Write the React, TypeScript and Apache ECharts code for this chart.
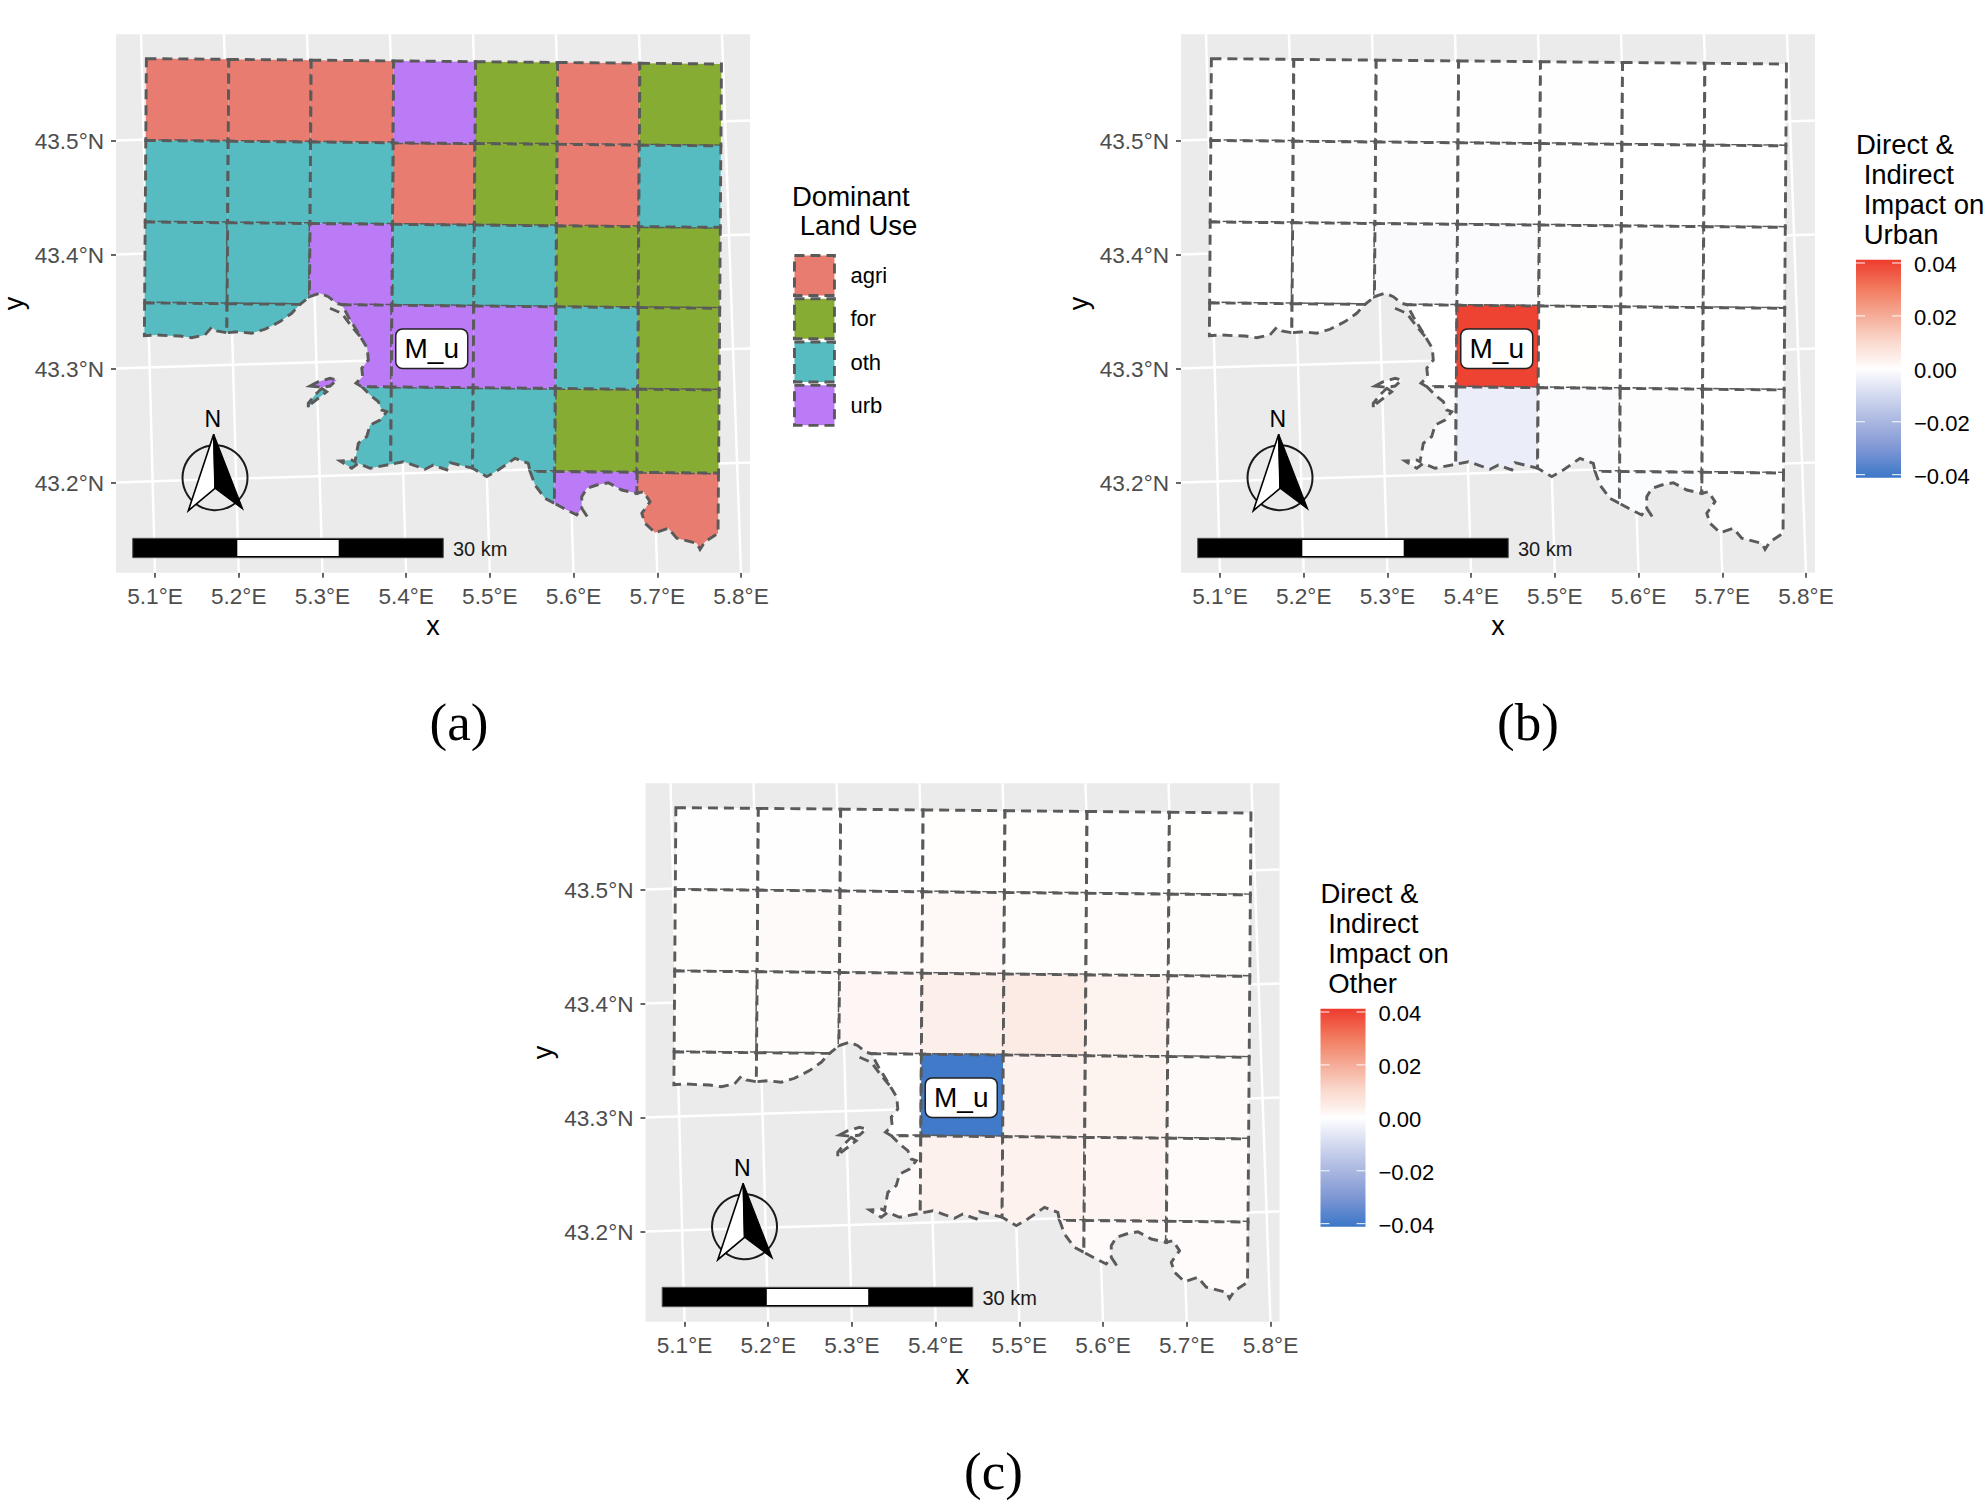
import React, { useEffect, useRef } from "react";
import * as echarts from "echarts";

const SANS = "'Liberation Sans', Arial, sans-serif";
const SERIF = "'Liberation Serif', serif";

// ---------- values ----------
const landUseNames = ["agri", "for", "oth", "urb"];
const landUseColors = ["#E97C70", "#87AC33", "#56BCC2", "#BB7AF6"];
const lonTicks = [5.1, 5.2, 5.3, 5.4, 5.5, 5.6, 5.7, 5.8];
const latTicks = [43.2, 43.3, 43.4, 43.5];
const meridianTilt = [0.0167, 0.0176, 0.0184, 0.0193, 0.0201, 0.021, 0.0218, 0.0227];
const parallelTilt = 0.0175;
const impactTicks = [-0.04, -0.02, 0, 0.02, 0.04];
const impactStops: [number, string][] = [
  [-0.0412, "#3A77C8"], [-0.03, "#7F97D4"], [-0.02, "#A9B7E0"], [-0.01, "#D3D9EF"], [0, "#FFFFFF"],
  [0.005, "#FCEBE5"], [0.01, "#FADACF"], [0.02, "#F5AC98"], [0.03, "#F27C60"], [0.0412, "#EE3B2E"],
];
const colLons = [5.0897, 5.1882, 5.2866, 5.3851, 5.4829, 5.5809, 5.6793, 5.7767];
const rowLats = [43.5718, 43.5, 43.4285, 43.3575, 43.2859, 43.213];
const landUse = [
  ["agri", "agri", "agri", "urb", "for", "agri", "for"],
  ["oth", "oth", "oth", "agri", "for", "agri", "oth"],
  ["oth", "oth", "urb", "oth", "oth", "for", "for"],
  ["oth", "oth", "urb", "urb", "urb", "oth", "for"],
  [null, null, "oth", "oth", "oth", "for", "for"],
  [null, null, null, null, "oth", "urb", "agri"],
];
const impactUrban = [
  [-0.0001, -0.0001, -0.0002, -0.0003, -0.0002, -0.0001, -0.0001],
  [-0.0002, -0.0004, -0.0005, -0.0003, -0.0002, -0.0001, -0.0001],
  [-0.0001, -0.0002, -0.0012, -0.001, -0.0003, -0.0002, -0.0001],
  [-0.0001, -0.0001, 0, 0.04, 0.0001, -0.0001, 0],
  [null, null, -0.001, -0.0045, -0.001, -0.0004, -0.0001],
  [null, null, null, null, -0.0008, -0.0008, -0.0002],
];
const impactOther = [
  [0.0002, 0.0002, 0.0002, 0.0003, 0.0003, 0.0002, 0.0001],
  [0.0005, 0.0012, 0.0008, 0.0018, 0.0006, 0.0008, 0.0006],
  [0.0005, 0.0008, 0.0022, 0.0042, 0.005, 0.0028, 0.0012],
  [0.0005, 0.0008, 0, -0.04, 0.0035, 0.003, 0.0012],
  [null, null, 0.0012, 0.0035, 0.0032, 0.0025, 0.001],
  [null, null, null, null, 0.002, 0.0012, 0.001],
];
type P = [number, number];
const coastWest: P[] = [[5.0873, 43.3288], [5.102, 43.3294], [5.1159, 43.3288], [5.1299, 43.3285], [5.1438, 43.327], [5.1597, 43.3294], [5.1677, 43.3361], [5.1737, 43.3329], [5.1858, 43.3314]];
const coastBayWest: P[] = [[5.1858, 43.3314], [5.1995, 43.3323], [5.2155, 43.3309], [5.2314, 43.3344], [5.2493, 43.3411], [5.2633, 43.3484], [5.2732, 43.3562]];
const coastPeak: P[] = [[5.2845, 43.363], [5.2971, 43.366], [5.307, 43.363], [5.3171, 43.3572], [5.3234, 43.3559]];
const coastBayEast: P[] = [[5.3234, 43.3559], [5.3309, 43.3454], [5.3429, 43.3309], [5.3536, 43.3177], [5.3548, 43.3075], [5.347, 43.3002], [5.3481, 43.2928], [5.3401, 43.287], [5.347, 43.2841]];
const coastSouthWest: P[] = [[5.347, 43.2841], [5.3569, 43.2768], [5.3668, 43.2709], [5.3708, 43.2636], [5.3768, 43.2621], [5.3688, 43.2548], [5.3569, 43.2504], [5.3529, 43.2402], [5.3429, 43.2344], [5.3389, 43.2182], [5.335, 43.2197], [5.321, 43.2189], [5.335, 43.2125], [5.3429, 43.2168], [5.3569, 43.2125], [5.3816, 43.216]];
const coastSouth: P[] = [[5.3816, 43.216], [5.3967, 43.2182], [5.4086, 43.2153], [5.4226, 43.2116], [5.4325, 43.2153], [5.4485, 43.211], [5.4524, 43.2174], [5.4794, 43.2125]];
const coastCove: P[] = [[5.4794, 43.2125], [5.4963, 43.2051], [5.5101, 43.211], [5.5301, 43.2212], [5.546, 43.2168], [5.548, 43.2098]];
const coastInlet: P[] = [[5.548, 43.2098], [5.554, 43.1978], [5.5659, 43.1861], [5.5771, 43.1818]];
const coastCape: P[] = [[5.5771, 43.1818], [5.5919, 43.1759], [5.6038, 43.1715], [5.6098, 43.1774], [5.6177, 43.1686], [5.6098, 43.1774], [5.6098, 43.1876], [5.6158, 43.1949], [5.6277, 43.1978], [5.6416, 43.1998], [5.6576, 43.1934], [5.6756, 43.1905]];
const coastEast: P[] = [[5.6756, 43.1905], [5.6834, 43.1919], [5.6914, 43.1832], [5.6815, 43.173], [5.6854, 43.1642], [5.6974, 43.156], [5.7132, 43.1598], [5.7233, 43.1511], [5.7472, 43.1467], [5.7511, 43.1414], [5.7571, 43.1481], [5.7726, 43.1554]];
const lagoon: P[] = [[5.3091, 43.3528], [5.3231, 43.3484], [5.335, 43.3367], [5.347, 43.3265]];
const islandUrb: P[] = [[5.2852, 43.2846], [5.2951, 43.2884], [5.3091, 43.2914], [5.3171, 43.2899], [5.3091, 43.2846], [5.2992, 43.2835]];
const islandOth: P[] = [[5.2992, 43.2826], [5.3051, 43.2796], [5.2951, 43.2739], [5.2872, 43.2695], [5.2831, 43.2651], [5.2831, 43.2695], [5.2911, 43.2768]];
const markerName = "M_u";
const markerPoint: P = [5.4306, 43.3174];

const xMin = 5.0534, xMax = 5.8108, yMin = 43.1208, yMax = 43.5932;
const barMin = -0.0412, barMax = 0.0412;

// ---------- geometry ----------
const V = (i: number, j: number): P => [
  colLons[j] + 0.0098 * (rowLats[i] - rowLats[0]),
  rowLats[i] - 0.0069 * (colLons[j] - colLons[0]),
];
const rev = (a: P[]) => [...a].reverse();
const specialRings: Record<string, P[]> = {
  "2,1": [V(2, 1), V(2, 2), coastPeak[0], coastBayWest[6], V(3, 1)],
  "2,2": [V(2, 2), V(2, 3), V(3, 3), ...rev(coastPeak)],
  "3,0": [V(3, 0), V(3, 1), ...rev(coastWest)],
  "3,1": [V(3, 1), ...rev(coastBayWest)],
  "3,2": [V(3, 3), V(4, 3), ...rev(coastBayEast)],
  "4,2": [V(4, 3), ...rev(coastSouthWest)],
  "4,3": [V(4, 3), V(4, 4), ...rev(coastSouth)],
  "4,4": [V(4, 4), V(4, 5), V(5, 5), ...rev(coastCove)],
  "5,4": [V(5, 5), ...rev(coastInlet)],
  "5,5": [V(5, 5), V(5, 6), ...rev(coastCape)],
  "5,6": [V(5, 6), V(5, 7), ...rev(coastEast)],
};
type Cell = { ring: P[]; use: string; urban: number; other: number };
const cells: Cell[] = [];
landUse.forEach((row, r) =>
  row.forEach((use, c) => {
    if (!use) return;
    const ring = specialRings[`${r},${c}`] || [V(r, c), V(r, c + 1), V(r + 1, c + 1), V(r + 1, c)];
    cells.push({ ring, use, urban: impactUrban[r][c] as number, other: impactOther[r][c] as number });
  })
);
cells.push({ ring: islandUrb, use: "urb", urban: impactUrban[3][2] as number, other: impactOther[3][2] as number });
cells.push({ ring: islandOth, use: "oth", urban: impactUrban[4][2] as number, other: impactOther[4][2] as number });

const hex = (h: string) => [1, 3, 5].map((k) => parseInt(h.slice(k, k + 2), 16));
function impactColor(v: number) {
  for (let k = 1; k < impactStops.length; k++) {
    const [a, ca] = impactStops[k - 1];
    const [b, cb] = impactStops[k];
    if (v <= b) {
      const t = Math.max(0, (v - a) / (b - a));
      const A = hex(ca), B = hex(cb);
      return `rgb(${A.map((x, m) => Math.round(x + (B[m] - x) * t)).join(",")})`;
    }
  }
  return impactStops[impactStops.length - 1][1];
}

const DASH = { stroke: "#5A5A5A", lineWidth: 2.9, lineDash: [10, 6] };

// ---------- layout ----------
const panels = [
  { left: 116, top: 34.2 },
  { left: 1181, top: 34.2 },
  { left: 645.5, top: 783.2 },
];
const PW = 634, PH = 538.6;

function cellSeries(g: number, items: Cell[], name: string, fill: (c: Cell) => string, color?: string) {
  return {
    type: "custom", name, xAxisIndex: g, yAxisIndex: g, z: 3, silent: true,
    itemStyle: color ? { color } : undefined,
    data: items.map((_, i) => [i]),
    renderItem: (params: any, api: any) => {
      const c = items[params.dataIndex];
      return { type: "polygon", shape: { points: c.ring.map((p) => api.coord(p)) }, style: { fill: fill(c), ...DASH } };
    },
  };
}
function graticuleSeries(g: number) {
  const lines: P[][] = [
    ...lonTicks.map((l, k): P[] => [[l, yMin], [l - meridianTilt[k], yMax]]),
    ...latTicks.map((l): P[] => [[xMin, l], [xMax, l + parallelTilt]]),
  ];
  return {
    type: "custom", name: "graticule", xAxisIndex: g, yAxisIndex: g, z: 1, silent: true,
    data: lines.map((_, i) => [i]),
    renderItem: (params: any, api: any) => ({
      type: "polyline",
      shape: { points: lines[params.dataIndex].map((p) => api.coord(p)) },
      style: { stroke: "#FFFFFF", lineWidth: 2.5, fill: "none" },
    }),
  };
}
function lagoonSeries(g: number) {
  return {
    type: "custom", name: "lagoon", xAxisIndex: g, yAxisIndex: g, z: 4, silent: true,
    data: [[0]],
    renderItem: (_: any, api: any) => ({
      type: "polyline", shape: { points: lagoon.map((p) => api.coord(p)) }, style: { fill: "none", ...DASH },
    }),
  };
}
function markerSeries(g: number) {
  return {
    type: "scatter", name: "marker", xAxisIndex: g, yAxisIndex: g, z: 6, silent: true,
    symbolSize: 1, itemStyle: { color: "rgba(0,0,0,0)", opacity: 1 }, data: [markerPoint],
    label: {
      show: true, position: "inside", formatter: () => markerName, fontFamily: SANS, fontSize: 28, color: "#000", opacity: 1,
      backgroundColor: "#FFF", borderColor: "#222", borderWidth: 1.5, borderRadius: 6, padding: [5, 8, 5, 8],
    },
  };
}
function decor(dx: number, dy: number, z = 20) {
  const pt = (x: number, y: number) => [x + dx, y + dy];
  return [
    { type: "circle", z, shape: { cx: 215 + dx, cy: 477.7 + dy, r: 32.5 }, style: { fill: "none", stroke: "#1A1A1A", lineWidth: 2 } },
    { type: "polygon", z: z + 1, shape: { points: [pt(213.7, 434.3), pt(188.3, 510.7), pt(215, 488.3)] }, style: { fill: "#FFF", stroke: "#000", lineWidth: 1.6 } },
    { type: "polygon", z: z + 1, shape: { points: [pt(213.7, 434.3), pt(215, 488.3), pt(242.7, 509)] }, style: { fill: "#000", stroke: "#000", lineWidth: 1.2 } },
    { type: "text", z, style: { text: "N", x: 212.7 + dx, y: 419.3 + dy, align: "center", verticalAlign: "middle", fontSize: 23, fontFamily: SANS, fill: "#000" } },
    { type: "rect", z, shape: { x: 132.7 + dx, y: 538.3 + dy, width: 310.6, height: 19.4 }, style: { fill: "#000", stroke: "#555", lineWidth: 1 } },
    { type: "rect", z: z + 1, shape: { x: 237.3 + dx, y: 540 + dy, width: 101.4, height: 16 }, style: { fill: "#FFF" } },
    { type: "text", z, style: { text: "30 km", x: 453 + dx, y: 549 + dy, align: "left", verticalAlign: "middle", fontSize: 20, fontFamily: SANS, fill: "#1A1A1A" } },
  ];
}
const fmtImpact = (v: number) => (v < 0 ? "\u2212" + Math.abs(v).toFixed(2) : Math.abs(v).toFixed(2));
function barSeries(g: number) {
  return {
    type: "custom", name: "impactBar", xAxisIndex: g, yAxisIndex: g, silent: true, z: 3,
    data: [[0]],
    renderItem: (_: any, api: any) => {
      const [x0, y0] = api.coord([0, barMax]);
      const [x1, y1] = api.coord([1, barMin]);
      const span = barMax - barMin;
      const gradient = new echarts.graphic.LinearGradient(0, 1, 0, 0,
        impactStops.map(([v, color]) => ({ offset: (v - barMin) / span, color })));
      const w = x1 - x0;
      const ticks = impactTicks.flatMap((t) => {
        const y = api.coord([0, t])[1];
        return [
          { type: "line", shape: { x1: x0, y1: y, x2: x0 + w * 0.2, y2: y }, style: { stroke: "#FFF", lineWidth: 1.2, opacity: 0.8 } },
          { type: "line", shape: { x1: x1 - w * 0.2, y1: y, x2: x1, y2: y }, style: { stroke: "#FFF", lineWidth: 1.2, opacity: 0.8 } },
        ];
      });
      return {
        type: "group",
        children: [{ type: "rect", shape: { x: x0, y: y0, width: w, height: y1 - y0 }, style: { fill: gradient } }, ...ticks],
      };
    },
  };
}

export default function App() {
  const ref = useRef<HTMLDivElement>(null);
  useEffect(() => {
    const chart = echarts.init(ref.current!, undefined, { renderer: "svg" });
    const bars = [{ left: 1856, top: 259.8 }, { left: 1320.5, top: 1008.8 }];
    const grids: any[] = [
      ...panels.map((p) => ({ left: p.left, top: p.top, width: PW, height: PH, show: true, backgroundColor: "#EBEBEB", borderWidth: 0, outerBoundsMode: "none" })),
      ...bars.map((b) => ({ left: b.left, top: b.top, width: 45, height: 218, show: false, outerBoundsMode: "none" })),
    ];
    const xAxes: any[] = [
      ...panels.map((_, i) => ({
        type: "value", gridIndex: i, min: xMin, max: xMax, name: "x", nameLocation: "middle", nameGap: 40,
        nameTextStyle: { fontFamily: SANS, fontSize: 27, color: "#000" },
        axisLine: { show: false }, splitLine: { show: false },
        axisTick: { show: true, length: 5, customValues: lonTicks, lineStyle: { color: "#333", width: 1.5 } },
        axisLabel: { customValues: lonTicks, formatter: (v: number) => v.toFixed(1) + "\u00B0E", fontFamily: SANS, fontSize: 22.6, color: "#4D4D4D", margin: 12 },
      })),
      ...bars.map((_, i) => ({ type: "value", gridIndex: 3 + i, min: 0, max: 1, show: false })),
    ];
    const yAxes: any[] = [
      ...panels.map((_, i) => ({
        type: "value", gridIndex: i, min: yMin, max: yMax, name: "y", nameLocation: "middle", nameGap: 89,
        nameTextStyle: { fontFamily: SANS, fontSize: 27, color: "#000" },
        axisLine: { show: false }, splitLine: { show: false },
        axisTick: { show: true, length: 5, customValues: latTicks, lineStyle: { color: "#333", width: 1.5 } },
        axisLabel: { customValues: latTicks, formatter: (v: number) => v.toFixed(1) + "\u00B0N", fontFamily: SANS, fontSize: 22.6, color: "#4D4D4D", margin: 12, verticalAlign: "top", lineHeight: 2.6 },
      })),
      ...bars.map((_, i) => ({
        type: "value", gridIndex: 3 + i, position: "right", min: barMin, max: barMax,
        axisLine: { show: false }, axisTick: { show: false }, splitLine: { show: false },
        axisLabel: { customValues: impactTicks, formatter: fmtImpact, fontFamily: SANS, fontSize: 22, color: "#000", margin: 13, verticalAlign: "top", lineHeight: 3 },
      })),
    ];
    const series: any[] = [
      graticuleSeries(0), graticuleSeries(1), graticuleSeries(2),
      ...landUseNames.map((n, k) =>
        cellSeries(0, cells.filter((c) => c.use === n), n, () => landUseColors[k], landUseColors[k])),
      cellSeries(1, cells, "impactUrban", (c) => impactColor(c.urban)),
      cellSeries(2, cells, "impactOther", (c) => impactColor(c.other)),
      lagoonSeries(0), lagoonSeries(1), lagoonSeries(2),
      markerSeries(0), markerSeries(1), markerSeries(2),
      barSeries(3), barSeries(4),
    ];
    const titleText = (text: string, x: number, y: number, lh: number) => ({
      type: "text", z: 20,
      style: { text, x, y, fontSize: 27.5, lineHeight: lh, fontFamily: SANS, fill: "#000", align: "left", verticalAlign: "top" },
    });
    const capText = (text: string, x: number, y: number) => ({
      type: "text", z: 20,
      style: { text, x, y, fontSize: 53, fontFamily: SERIF, fill: "#000", align: "center", verticalAlign: "middle" },
    });
    chart.setOption({
      animation: false,
      backgroundColor: "#FFFFFF",
      grid: grids, xAxis: xAxes, yAxis: yAxes, series,
      legend: {
        data: landUseNames, orient: "vertical", left: 788, top: 249, itemWidth: 40, itemHeight: 40, itemGap: 0.4,
        icon: "rect", selectedMode: false,
        itemStyle: { borderColor: "#5A5A5A", borderWidth: 2.9, borderType: [10, 6] },
        textStyle: { fontFamily: SANS, fontSize: 22, color: "#000", padding: [0, 0, 0, 11] },
      },
      graphic: {
        elements: [
          ...decor(0, 0), ...decor(1065, 0), ...decor(529.5, 749),
          titleText("Dominant\n Land Use", 792, 181.5, 29.5),
          titleText("Direct &\n Indirect\n Impact on\n Urban", 1856, 129.5, 30),
          titleText("Direct &\n Indirect\n Impact on\n Other", 1320.5, 878.5, 30),
          capText("(a)", 459, 722), capText("(b)", 1528, 722), capText("(c)", 993.5, 1471),
        ],
      },
    });
    return () => chart.dispose();
  }, []);
  return <div ref={ref} style={{ position: "absolute", left: 0, top: 0, width: 1987, height: 1501 }} />;
}
